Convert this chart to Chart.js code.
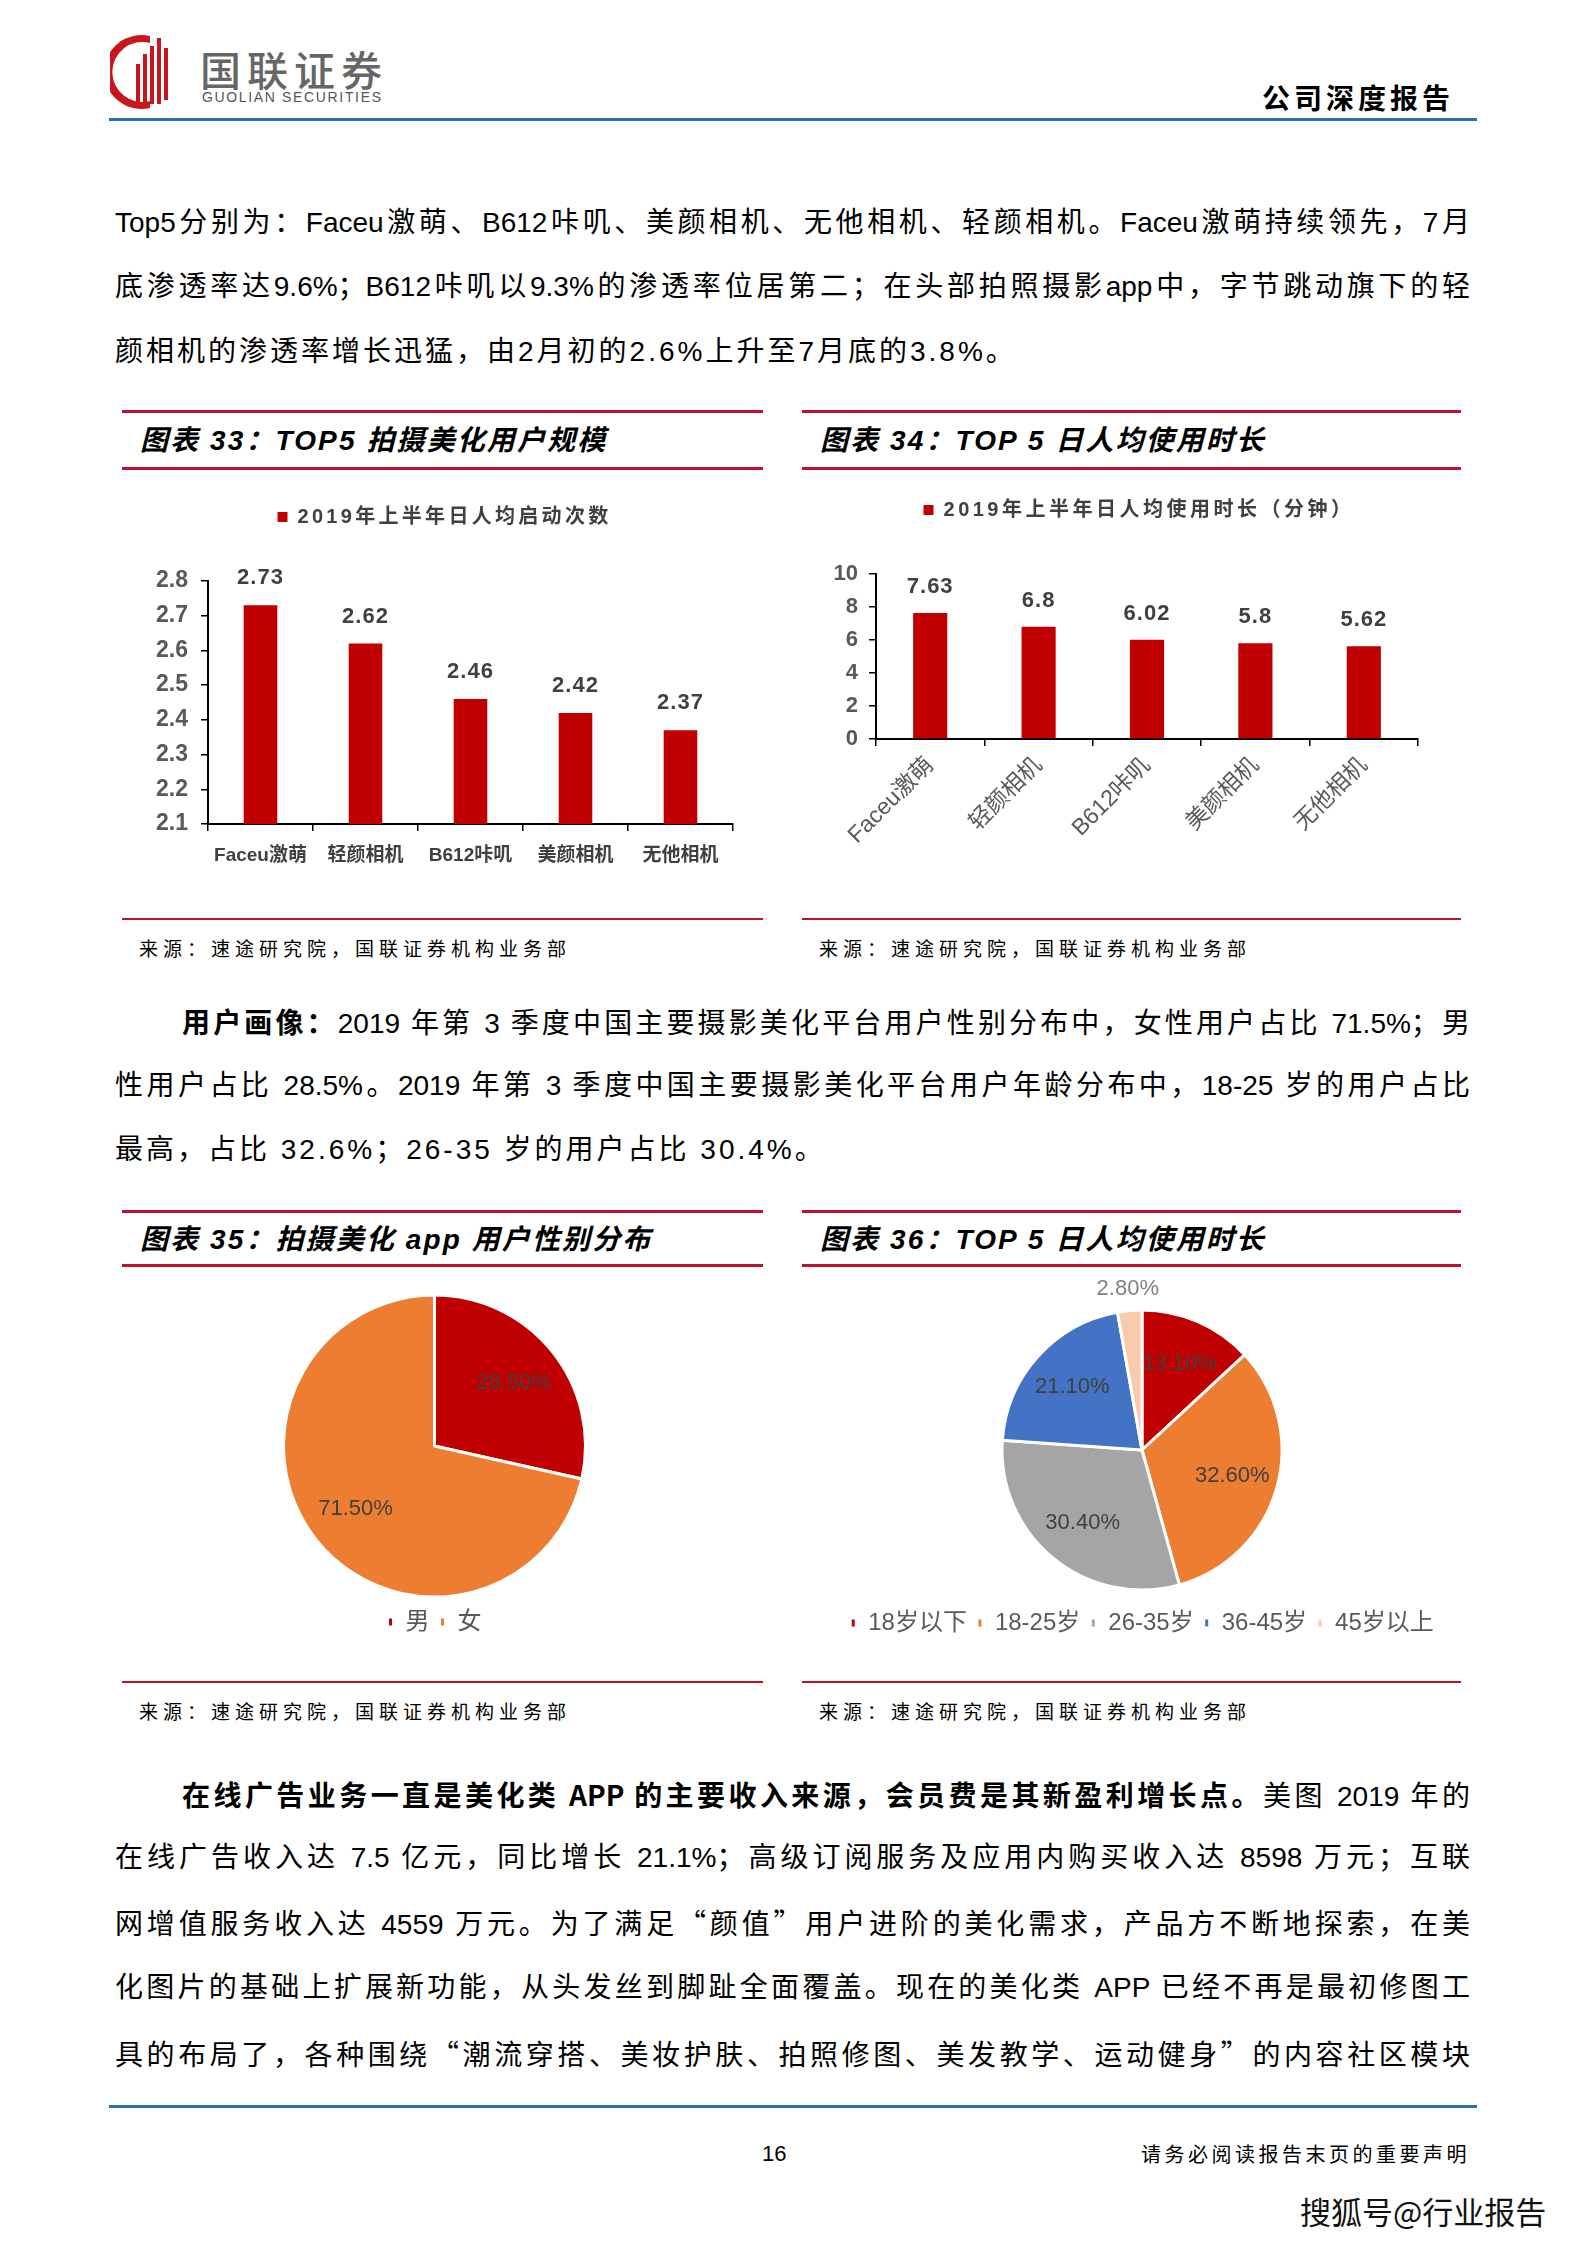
<!DOCTYPE html>
<html>
<head>
<meta charset="utf-8">
<script src="https://cdn.jsdelivr.net/npm/chart.js@4.4.1/dist/chart.umd.min.js"></script>
<style>
html, body { margin:0; padding:0; background:#fff; }
body { width:1586px; height:2245px; position:relative; overflow:hidden;
       font-family:"Liberation Sans","Noto Sans CJK SC",sans-serif; color:#000; }
.abs { position:absolute; white-space:nowrap; }
.ln { position:absolute; left:115px; width:1355px; font-size:28px; line-height:40px;
      text-align:justify; text-align-last:justify; }
.ln.last { text-align:left; text-align-last:left; letter-spacing:3px; }
.ln.ind { left:182px; width:1288px; }
.q { font-family:"Noto Sans CJK SC",sans-serif; }
.rule { position:absolute; height:3px; background:#C0122C; }
.ttl { position:absolute; white-space:nowrap; font-size:28px; font-weight:700; font-style:italic; line-height:34px;
       letter-spacing:2.1px; font-family:"Liberation Sans","Noto Sans CJK SC",sans-serif; }
.src { position:absolute; white-space:nowrap; font-size:19px; line-height:24px; letter-spacing:5px;
       font-family:"Noto Sans CJK SC",sans-serif; }
canvas { position:absolute; }
</style>
</head>
<body>

<!-- header -->
<svg class="abs" style="left:110px;top:34px" width="72" height="76" viewBox="0 0 72 76">
  <path d="M40 2 A37 37 0 1 0 40 74 L40 67 A30 30 0 1 1 40 9 Z" fill="#C8161D"/>
  <rect x="26" y="30" width="4" height="40" fill="#C8161D"/>
  <rect x="33" y="20" width="4" height="50" fill="#C8161D"/>
  <rect x="40" y="12" width="4" height="58" fill="#C8161D"/>
  <rect x="47" y="4" width="4" height="66" fill="#C8161D"/>
  <rect x="54" y="14" width="4" height="52" fill="#C8161D"/>
</svg>
<div class="abs" style="left:200px;top:45px;font-size:41px;line-height:46px;color:#666;font-family:'Noto Sans CJK SC';font-weight:500;letter-spacing:6px">国联证券</div>
<div class="abs" style="left:202px;top:89px;font-size:14px;line-height:16px;color:#555;font-family:'Liberation Sans';letter-spacing:1.65px">GUOLIAN SECURITIES</div>
<div class="abs" style="left:1262px;top:80px;font-size:28px;line-height:34px;font-weight:700;font-family:'Noto Sans CJK SC';letter-spacing:4px">公司深度报告</div>
<div class="abs" style="left:109px;top:118px;width:1368px;height:3px;background:#2F6EB5"></div>

<!-- paragraph 1 -->
<div class="ln" style="top:203px">Top5分别为：Faceu激萌、B612咔叽、美颜相机、无他相机、轻颜相机。Faceu激萌持续领先，7月</div>
<div class="ln" style="top:267px">底渗透率达9.6%；B612咔叽以9.3%的渗透率位居第二；在头部拍照摄影app中，字节跳动旗下的轻</div>
<div class="ln last" style="top:332px">颜相机的渗透率增长迅猛，由2月初的2.6%上升至7月底的3.8%。</div>

<!-- chart 33 / 34 frames -->
<div class="rule" style="left:122px;top:410px;width:641px"></div>
<div class="ttl" style="left:140px;top:424px">图表 33：TOP5 拍摄美化用户规模</div>
<div class="rule" style="left:122px;top:467px;width:641px"></div>
<div class="rule" style="left:802px;top:410px;width:659px"></div>
<div class="ttl" style="left:820px;top:424px">图表 34：TOP 5 日人均使用时长</div>
<div class="rule" style="left:802px;top:467px;width:659px"></div>

<canvas id="c33" width="641" height="375" style="left:122px;top:497px"></canvas>
<canvas id="c34" width="659" height="359" style="left:802px;top:490px"></canvas>

<div class="rule" style="left:122px;top:918px;width:641px;height:2px"></div>
<div class="src" style="left:139px;top:936px">来源：速途研究院，国联证券机构业务部</div>
<div class="rule" style="left:802px;top:918px;width:659px;height:2px"></div>
<div class="src" style="left:819px;top:936px">来源：速途研究院，国联证券机构业务部</div>

<!-- paragraph 2 -->
<div class="ln ind" style="top:1001px"><b style="font-family:'Noto Sans CJK SC'">用户画像：</b>2019 年第 3 季度中国主要摄影美化平台用户性别分布中，女性用户占比 71.5%；男</div>
<div class="ln" style="top:1066px">性用户占比 28.5%。2019 年第 3 季度中国主要摄影美化平台用户年龄分布中，18-25 岁的用户占比</div>
<div class="ln last" style="top:1130px">最高，占比 32.6%；26-35 岁的用户占比 30.4%。</div>

<!-- chart 35 / 36 frames -->
<div class="rule" style="left:122px;top:1210px;width:641px"></div>
<div class="ttl" style="left:140px;top:1223px">图表 35：拍摄美化 app 用户性别分布</div>
<div class="rule" style="left:122px;top:1264px;width:641px"></div>
<div class="rule" style="left:802px;top:1210px;width:659px"></div>
<div class="ttl" style="left:820px;top:1223px">图表 36：TOP 5 日人均使用时长</div>
<div class="rule" style="left:802px;top:1264px;width:659px"></div>

<canvas id="c35" width="641" height="362" style="left:122px;top:1285px"></canvas>
<canvas id="c36" width="659" height="373" style="left:802px;top:1275px"></canvas>

<div class="rule" style="left:122px;top:1681px;width:641px;height:2px"></div>
<div class="src" style="left:139px;top:1699px">来源：速途研究院，国联证券机构业务部</div>
<div class="rule" style="left:802px;top:1681px;width:659px;height:2px"></div>
<div class="src" style="left:819px;top:1699px">来源：速途研究院，国联证券机构业务部</div>

<!-- paragraph 3 -->
<div class="ln ind" style="top:1774px"><b style="font-family:'Noto Sans CJK SC'">在线广告业务一直是美化类 APP 的主要收入来源，会员费是其新盈利增长点。</b>美图 2019 年的</div>
<div class="ln" style="top:1838px">在线广告收入达 7.5 亿元，同比增长 21.1%；高级订阅服务及应用内购买收入达 8598 万元；互联</div>
<div class="ln" style="top:1902px">网增值服务收入达 4559 万元。为了满足<span class="q">“</span>颜值<span class="q">”</span>用户进阶的美化需求，产品方不断地探索，在美</div>
<div class="ln" style="top:1968px">化图片的基础上扩展新功能，从头发丝到脚趾全面覆盖。现在的美化类 APP 已经不再是最初修图工</div>
<div class="ln" style="top:2033px">具的布局了，各种围绕<span class="q">“</span>潮流穿搭、美妆护肤、拍照修图、美发教学、运动健身<span class="q">”</span>的内容社区模块</div>

<!-- footer -->
<div class="abs" style="left:109px;top:2105px;width:1368px;height:3px;background:#2F6EB5"></div>
<div class="abs" style="left:762px;top:2141px;font-size:22px;line-height:26px;font-family:'Liberation Sans'">16</div>
<div class="abs" style="left:1141px;top:2141px;font-size:20px;line-height:26px;letter-spacing:3.5px;font-family:'Noto Sans CJK SC'">请务必阅读报告末页的重要声明</div>
<div class="abs" style="left:1300px;top:2192px;font-size:31px;line-height:38px;font-family:'Noto Sans CJK SC';color:#111;text-shadow:0 0 2px #fff">搜狐号@行业报告</div>

<script>
// ---------- data ----------
var cat33 = ['Faceu激萌', '轻颜相机', 'B612咔叽', '美颜相机', '无他相机'];
var val33 = [2.73, 2.62, 2.46, 2.42, 2.37];
var legend33 = '2019年上半年日人均启动次数';

var cat34 = ['Faceu激萌', '轻颜相机', 'B612咔叽', '美颜相机', '无他相机'];
var val34 = [7.63, 6.8, 6.02, 5.8, 5.62];
var legend34 = '2019年上半年日人均使用时长（分钟）';

var cat35 = ['男', '女'];
var val35 = [28.5, 71.5];

var cat36 = ['18岁以下', '18-25岁', '26-35岁', '36-45岁', '45岁以上'];
var val36 = [13.1, 32.6, 30.4, 21.1, 2.8];

var RED = '#C00000';
var FONT = '"Liberation Sans", "Noto Sans CJK SC", sans-serif';

Chart.defaults.font.family = FONT;
Chart.defaults.animation = false;

/* value labels above bars */
var barValueLabels = {
  id: 'barValueLabels',
  afterDatasetsDraw: function(chart, args, opts) {
    var ctx = chart.ctx;
    var data = chart.data.datasets[0].data;
    ctx.save();
    ctx.font = opts.font;
    ctx.letterSpacing = opts.spacing || '0px';
    ctx.fillStyle = opts.color;
    ctx.textAlign = 'center';
    ctx.textBaseline = 'middle';
    chart.getDatasetMeta(0).data.forEach(function(bar, i) {
      ctx.fillText(String(data[i]), bar.x, bar.y - opts.offset);
    });
    ctx.restore();
  }
};

/* percentage labels on slices */
var pieValueLabels = {
  id: 'pieValueLabels',
  afterDatasetsDraw: function(chart, args, opts) {
    var ctx = chart.ctx;
    var data = chart.data.datasets[0].data;
    ctx.save();
    ctx.font = opts.font;
    ctx.textAlign = 'center';
    ctx.textBaseline = 'middle';
    chart.getDatasetMeta(0).data.forEach(function(arc, i) {
      var v = data[i];
      var mid = (arc.startAngle + arc.endAngle) / 2;
      var outside = v < opts.outsideBelow;
      var r = outside ? arc.outerRadius + opts.outsideGap : arc.outerRadius * opts.inset;
      ctx.fillStyle = outside ? opts.outsideColor : opts.color;
      ctx.fillText(v.toFixed(2) + '%', arc.x + Math.cos(mid) * r, arc.y + Math.sin(mid) * r);
    });
    ctx.restore();
  }
};

/* wider-spaced legend text, extra room under a top legend, small sideways shift */
var legendTweak = {
  id: 'legendTweak',
  beforeInit: function(chart, args, opts) {
    var lg = chart.legend;
    var fit = lg.fit, draw = lg.draw;
    lg.fit = function() {
      this.ctx.letterSpacing = opts.spacing || '0px';
      fit.call(lg);
      this.ctx.letterSpacing = '0px';
      this.height += opts.gap || 0;
    };
    lg.draw = function() {
      var ctx = this.ctx;
      ctx.save();
      ctx.translate(opts.shift || 0, 0);
      ctx.letterSpacing = opts.spacing || '0px';
      draw.call(lg);
      ctx.letterSpacing = '0px';
      ctx.restore();
    };
  }
};

function axisGrid() {
  return { drawOnChartArea: false, drawTicks: true, tickLength: 7, color: '#000', lineWidth: 1.5 };
}

/////////////////////////////////////
/*           CHART 33              */
/////////////////////////////////////
new Chart(document.getElementById('c33'), {
  type: 'bar',
  data: {
    labels: cat33,
    datasets: [{ label: legend33, data: val33, backgroundColor: RED,
                 categoryPercentage: 1, barPercentage: 0.32 }]
  },
  plugins: [barValueLabels, legendTweak],
  options: {
    responsive: false,
    layout: { padding: { top: 0, right: 30, bottom: 0, left: 0 } },
    plugins: {
      legend: { labels: { boxWidth: 10, boxHeight: 10, padding: 10, color: '#404040',
                          font: { size: 20, weight: 'bold' } } },
      legendTweak: { gap: 44, spacing: '3.3px', shift: 17 },
      tooltip: { enabled: false },
      barValueLabels: { font: 'bold 22px "Liberation Sans", sans-serif', color: '#404040', offset: 27, spacing: '1px' }
    },
    scales: {
      x: {
        grid: axisGrid(),
        border: { color: '#000', width: 2 },
        ticks: { color: '#404040', font: { size: 19, weight: 'bold' }, padding: 13, maxRotation: 0 },
        afterFit: function(s) { s.height = 48; }
      },
      y: {
        min: 2.1, max: 2.8,
        grid: axisGrid(),
        border: { color: '#000', width: 2 },
        ticks: { stepSize: 0.1, color: '#595959', padding: 13,
                 font: { size: 23, weight: 'bold' },
                 callback: function(v) { return Number(v).toFixed(1); } },
        afterFit: function(s) { s.width = 86; }
      }
    }
  }
});

/////////////////////////////////////
/*           CHART 34              */
/////////////////////////////////////
new Chart(document.getElementById('c34'), {
  type: 'bar',
  data: {
    labels: cat34,
    datasets: [{ label: legend34, data: val34, backgroundColor: RED,
                 categoryPercentage: 1, barPercentage: 0.315 }]
  },
  plugins: [barValueLabels, legendTweak],
  options: {
    responsive: false,
    layout: { padding: { top: 0, right: 43, bottom: 0, left: 0 } },
    plugins: {
      legend: { labels: { boxWidth: 10, boxHeight: 10, padding: 10, color: '#404040',
                          font: { size: 20, weight: 'bold' } } },
      legendTweak: { gap: 44, spacing: '3.5px', shift: 29 },
      tooltip: { enabled: false },
      barValueLabels: { font: 'bold 22px "Liberation Sans", sans-serif', color: '#404040', offset: 26, spacing: '1px' }
    },
    scales: {
      x: {
        grid: axisGrid(),
        border: { color: '#000', width: 2 },
        ticks: { color: '#595959', font: { size: 23 }, padding: 6, minRotation: 45, maxRotation: 45 },
        afterFit: function(s) { s.height = 110; }
      },
      y: {
        min: 0, max: 10,
        grid: axisGrid(),
        border: { color: '#000', width: 2 },
        ticks: { stepSize: 2, color: '#595959', padding: 11, font: { size: 22, weight: 'bold' } },
        afterFit: function(s) { s.width = 74; }
      }
    }
  }
});

/////////////////////////////////////
/*           CHART 35              */
/////////////////////////////////////
new Chart(document.getElementById('c35'), {
  type: 'pie',
  data: {
    labels: cat35,
    datasets: [{ data: val35, backgroundColor: [RED, '#ED7D31'],
                 borderColor: '#fff', borderWidth: 3, radius: 151 }]
  },
  plugins: [pieValueLabels],
  options: {
    responsive: false,
    layout: { padding: { top: 7, right: 16, bottom: 3, left: 0 } },
    plugins: {
      legend: { position: 'bottom',
                labels: { boxWidth: 6, boxHeight: 10, padding: 10, color: '#595959', font: { size: 24 } } },
      tooltip: { enabled: false },
      pieValueLabels: { font: '22px "Liberation Sans", sans-serif', color: '#404040',
                        inset: 0.67, outsideBelow: 5, outsideGap: 22, outsideColor: '#808080' }
    }
  }
});

/////////////////////////////////////
/*           CHART 36              */
/////////////////////////////////////
new Chart(document.getElementById('c36'), {
  type: 'pie',
  data: {
    labels: cat36,
    datasets: [{ data: val36, backgroundColor: [RED, '#ED7D31', '#A5A5A5', '#4472C4', '#F8CBAD'],
                 borderColor: '#fff', borderWidth: 3, radius: 140 }]
  },
  plugins: [pieValueLabels],
  options: {
    responsive: false,
    layout: { padding: { top: 24, right: 0, bottom: 3, left: 21 } },
    plugins: {
      legend: { position: 'bottom',
                labels: { boxWidth: 6, boxHeight: 10, padding: 10, color: '#595959', font: { size: 24 } } },
      tooltip: { enabled: false },
      pieValueLabels: { font: '22px "Liberation Sans", sans-serif', color: '#404040',
                        inset: 0.67, outsideBelow: 5, outsideGap: 22, outsideColor: '#808080' }
    }
  }
});
</script>
</body>
</html>
